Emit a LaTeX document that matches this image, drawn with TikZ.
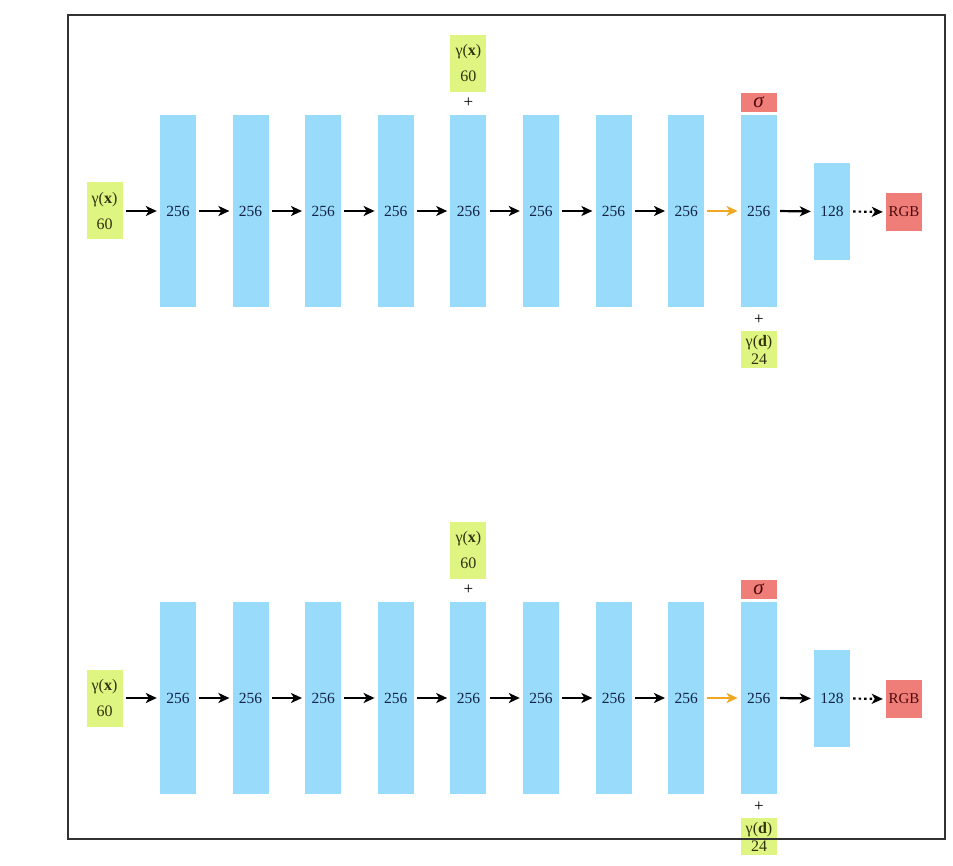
\documentclass[tikz,border=0pt]{standalone}
\usepackage{fontspec}
\setmainfont{Liberation Serif}
\usetikzlibrary{arrows.meta}
\definecolor{barblue}{RGB}{152,219,250}
\definecolor{encgreen}{RGB}{222,245,130}
\definecolor{outred}{RGB}{239,125,120}
\definecolor{orarrow}{RGB}{240,168,35}
\definecolor{frameg}{RGB}{50,50,50}
\definecolor{bartext}{RGB}{20,35,70}
\definecolor{redtext}{RGB}{80,10,15}
\definecolor{greentext}{RGB}{50,50,15}
\tikzset{
  layer/.style={fill=barblue, draw=none, inner sep=0pt, minimum width=36pt, text=bartext, font=\fontsize{15.5}{16}\selectfont},
  enc/.style={fill=encgreen, draw=none, inner sep=0pt, minimum width=36pt, align=center, text=greentext, font=\fontsize{16}{26}\selectfont},
  encd/.style={fill=encgreen, draw=none, inner sep=0pt, minimum width=36pt, align=center, text=greentext, font=\fontsize{16}{18}\selectfont},
  outbox/.style={fill=outred, draw=none, inner sep=0pt, minimum width=36pt, text=redtext, font=\fontsize{15}{16}\selectfont},
  plussign/.style={inner sep=0pt, font=\fontsize{17}{17}\selectfont},
  flow/.style={-{Stealth[length=11pt,width=10pt,inset=3pt]}, line width=2.2pt, shorten >=3pt, shorten <=3pt},
}
\begin{document}
\begin{tikzpicture}[x=1pt,y=-1pt]
\useasboundingbox (0,0) rectangle (953,866);
\fill[white] (0,0) rectangle (953,866);
\foreach \r/\dy in {t/0,b/487}{
  \begin{scope}[yshift=-\dy pt]
    \node[enc, minimum height=57pt] (\r in) at (104.5,211) {γ(\textbf{x})\\60};
    \foreach \i in {1,...,9}{
      \node[layer, minimum height=192pt] (\r b\i) at ({178+72.6*(\i-1)},211) {256};
    }
    \node[layer, minimum height=97pt] (\r h) at (832,211.5) {128};
    \node[outbox, minimum height=38pt] (\r rgb) at (904,212) {RGB};
    \node[outbox, minimum height=19pt, font=\fontsize{21}{21}\selectfont] (\r sig) at (759,102.5) {\textit{σ}};
    \node[plussign] (\r p1) at (468.4,103) {+};
    \node[enc, minimum height=57pt] (\r mid) at (468.4,63.5) {γ(\textbf{x})\\60};
    \node[plussign] (\r p2) at (759,320) {+};
    \node[encd, minimum height=37pt] (\r dir) at (759,349.5) {γ(\textbf{d})\\24};
    \draw[flow] (\r in.east) -- (\r b1.west);
    \foreach \i/\j in {1/2,2/3,3/4,4/5,5/6,6/7,7/8}{
      \draw[flow] (\r b\i.east) -- (\r b\j.west);
    }
    \draw[flow, draw=orarrow, line width=1.9pt] (\r b8.east) -- (\r b9.west);
    \draw[flow] (\r b9.east) -- (\r h.west);
    \draw[flow, dash pattern=on 2.5pt off 3pt] (\r h.east) -- (\r rgb.west);
  \end{scope}
}
\draw[frameg, line width=1.4pt] (68,15) rectangle (945,839);
\end{tikzpicture}
\end{document}
